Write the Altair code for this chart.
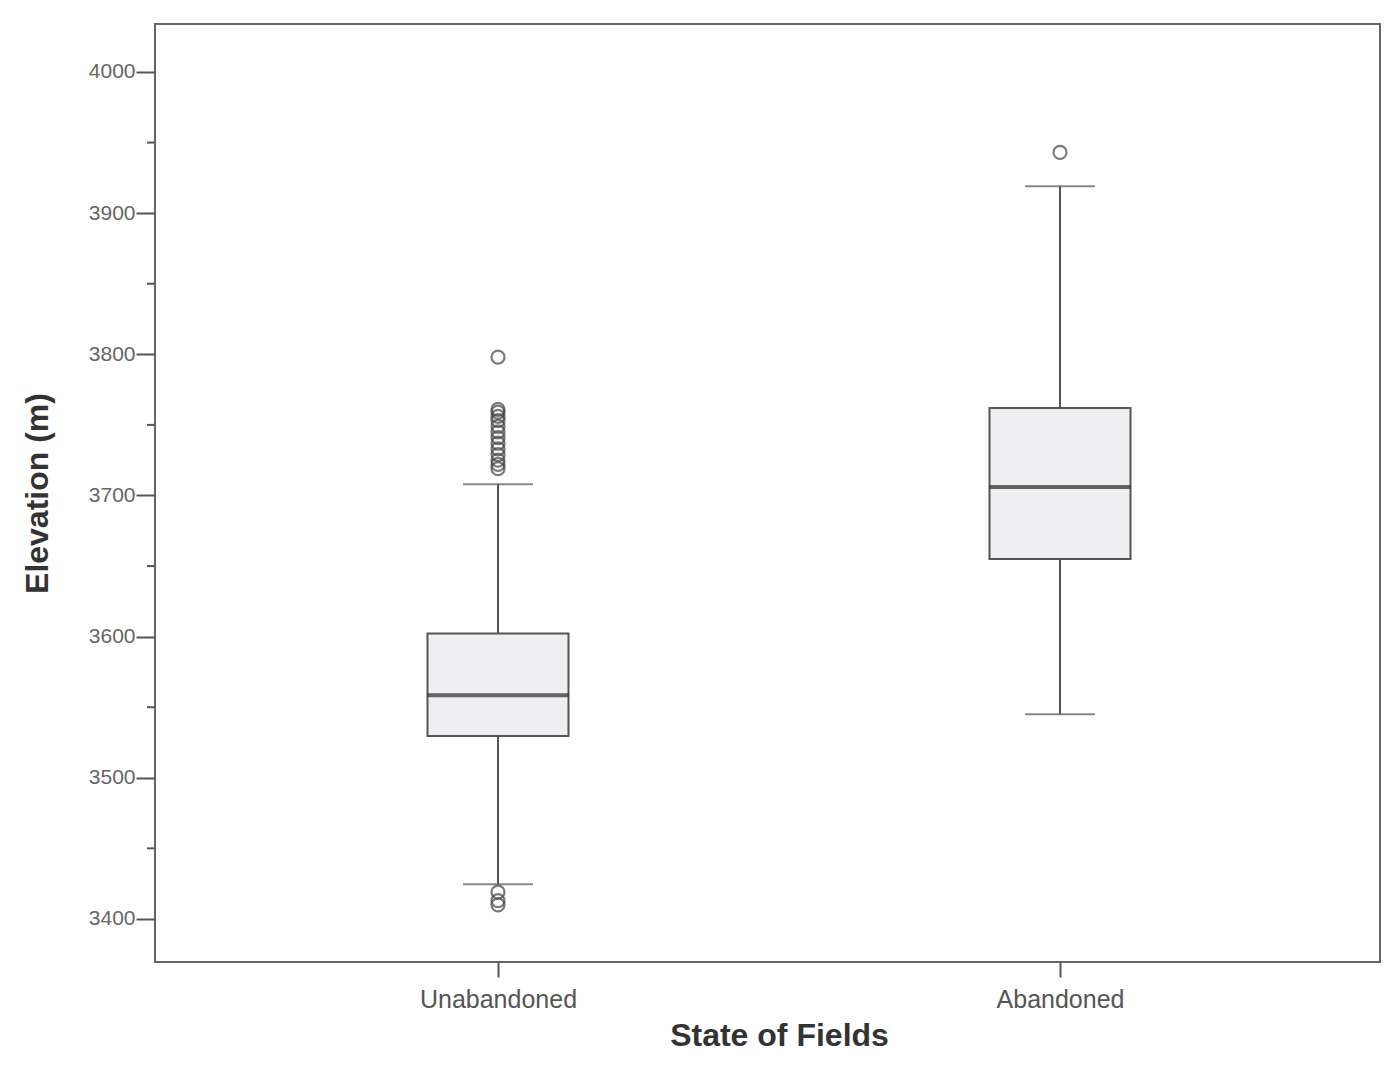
import altair as alt
import pandas as pd

# ---- data ----
categories = ["Unabandoned", "Abandoned"]
q1 = [3529.6, 3655.0]
median = [3558.5, 3706.0]
q3 = [3602.3, 3762.0]
whisker_low = [3424.5, 3545.0]
whisker_high = [3708.0, 3919.0]

outlier_cat = ["Unabandoned"] * 17 + ["Abandoned"]
outlier_val = [3798, 3761, 3759, 3756, 3753, 3749, 3745, 3741, 3737, 3733,
               3729, 3725, 3722, 3719, 3419, 3413, 3410, 3943]

major_ticks = [3400, 3500, 3600, 3700, 3800, 3900, 4000]
minor_ticks = [3450, 3550, 3650, 3750, 3850, 3950]

box_df = pd.DataFrame({"cat": categories, "q1": q1, "median": median, "q3": q3,
                       "lo": whisker_low, "hi": whisker_high})
out_df = pd.DataFrame({"cat": outlier_cat, "val": outlier_val})
minor_df = pd.DataFrame({"v": minor_ticks})

FONT = "Liberation Sans"
AX = "#555555"

x_scale = alt.Scale(type="point", range=[343, 905], padding=0)
y_scale = alt.Scale(domain=[3369.5, 4034], nice=False, zero=False)

x_enc = alt.X("cat:N", scale=x_scale, sort=categories,
              axis=alt.Axis(title="State of Fields", labelAngle=0, domain=False,
                            tickSize=15, tickColor=AX, tickWidth=2,
                            labelFontSize=25, labelColor="#555555", labelPadding=10,
                            labelFont=FONT, titleFont=FONT, titleFontSize=32,
                            titleFontWeight="bold", titleColor="#333333",
                            titlePadding=8))
y_axis = alt.Axis(title="Elevation (m)", values=major_ticks, format="d", domain=False,
                  tickSize=19, tickColor=AX, tickWidth=2, grid=False,
                  labelFontSize=21, labelColor="#666666", labelPadding=1,
                  labelFont=FONT, titleFont=FONT, titleFontSize=32,
                  titleFontWeight="bold", titleColor="#333333", titlePadding=34)

base = alt.Chart(box_df)
xs = alt.X("cat:N", scale=x_scale, sort=categories)

whisk_lo = base.mark_rule(color=AX, strokeWidth=2).encode(
    x=x_enc, y=alt.Y("lo:Q", scale=y_scale, axis=y_axis), y2="q1:Q")
whisk_hi = base.mark_rule(color=AX, strokeWidth=2).encode(
    x=xs, y=alt.Y("q3:Q", scale=y_scale), y2="hi:Q")
cap_lo = base.mark_tick(color=AX, size=70, thickness=2).encode(
    x=xs, y=alt.Y("lo:Q", scale=y_scale))
cap_hi = base.mark_tick(color=AX, size=70, thickness=2).encode(
    x=xs, y=alt.Y("hi:Q", scale=y_scale))
box = base.mark_bar(size=141, fill="#efeff2", stroke=AX, strokeWidth=2).encode(
    x=xs, y=alt.Y("q1:Q", scale=y_scale), y2="q3:Q")
med = base.mark_tick(color="#2a2a2a", size=141, thickness=4).encode(
    x=xs, y=alt.Y("median:Q", scale=y_scale))
outl = alt.Chart(out_df).mark_point(shape="circle", filled=False, size=170,
                                    color="#444444", strokeWidth=2.2).encode(
    x=xs, y=alt.Y("val:Q", scale=y_scale))
minor = alt.Chart(minor_df).mark_rule(color=AX, strokeWidth=2, clip=False).encode(
    y=alt.Y("v:Q", scale=y_scale), x=alt.value(-8), x2=alt.value(0))

chart = alt.layer(whisk_lo, whisk_hi, cap_lo, cap_hi, box, med, outl, minor).properties(
    width=1225, height=938,
    autosize=alt.AutoSizeParams(type="none"),
    padding={"left": 147, "top": 16, "right": 5, "bottom": 92},
    background="white",
).configure_view(stroke="#666666", strokeWidth=2)

chart.save("out.html", embed_options={"renderer": "svg", "actions": False})
